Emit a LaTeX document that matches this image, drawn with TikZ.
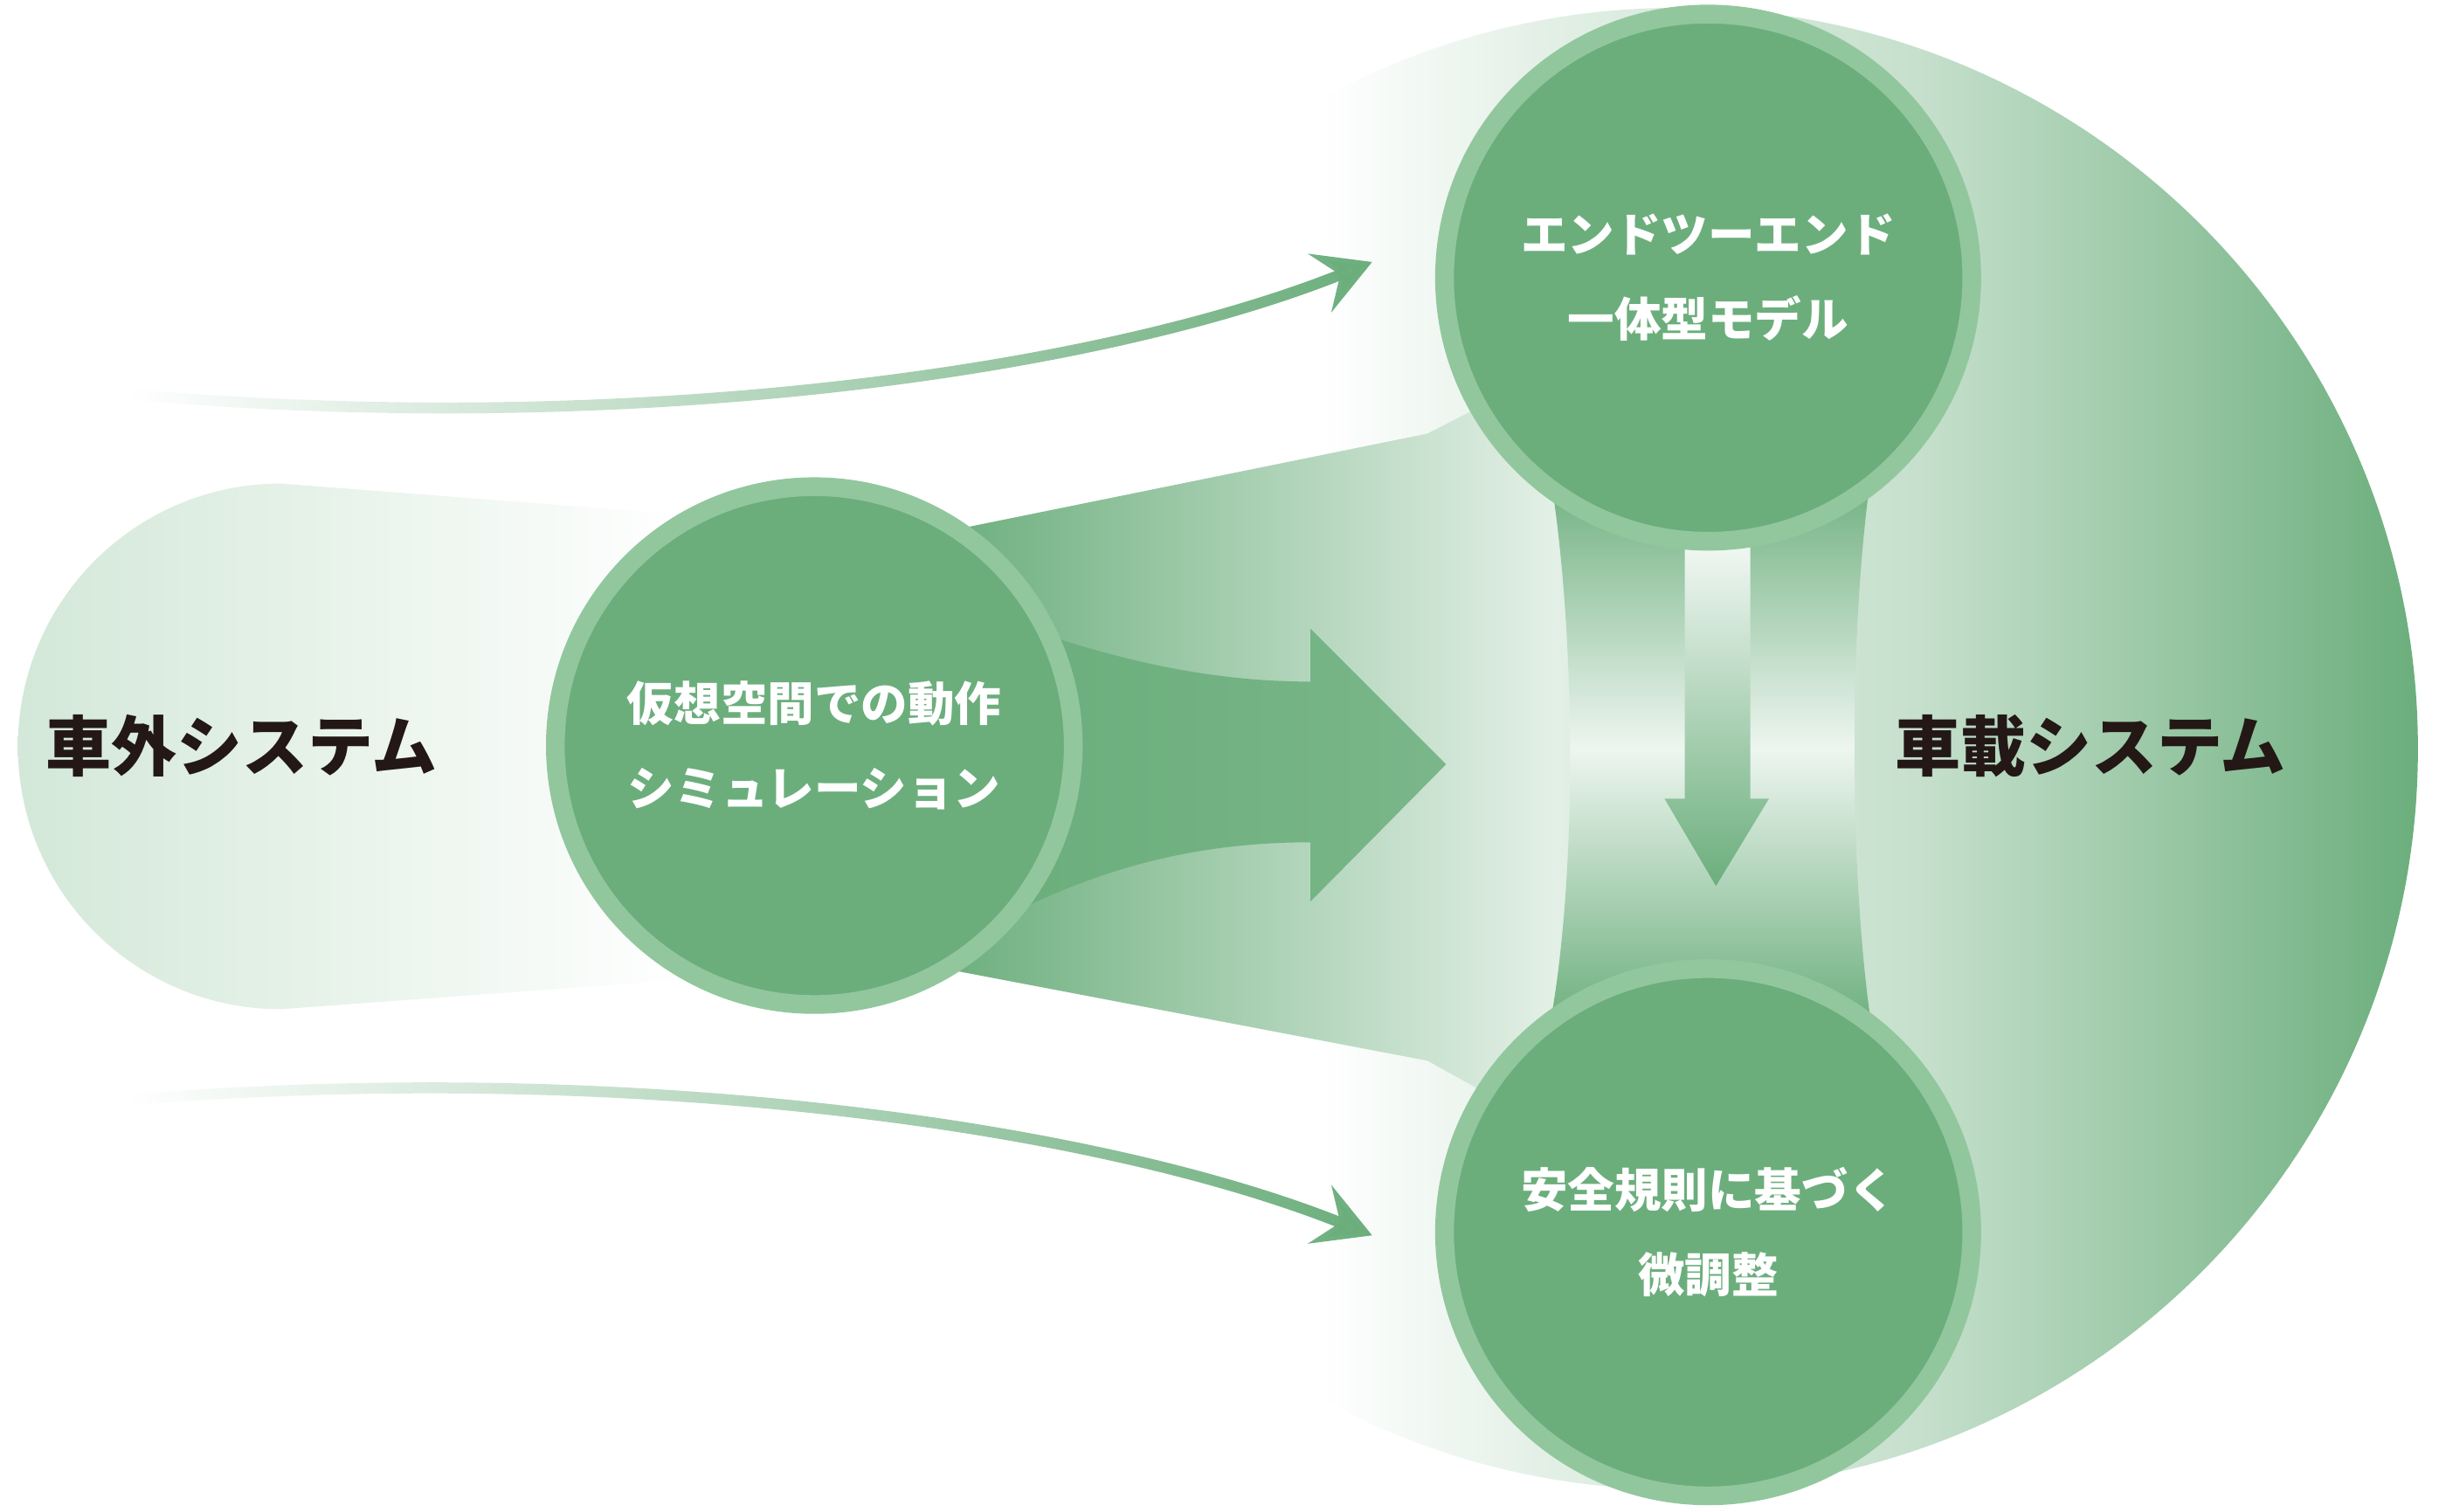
\documentclass[tikz,border=0pt]{standalone}
\usepackage{fontspec}
\setmainfont{Noto Sans CJK JP}
\usetikzlibrary{arrows.meta,fadings}
\definecolor{gr}{HTML}{6BAE7C}
\definecolor{ring}{HTML}{92C79E}
\definecolor{lg}{HTML}{D3E8D8}
\definecolor{ink}{HTML}{231815}
\pgfdeclarehorizontalshading{bigshade}{100bp}{color(0bp)=(white); color(25bp)=(white); color(38bp)=(white); color(46bp)=(gr!20); color(58bp)=(gr!38); color(75bp)=(gr); color(100bp)=(gr)}
\tikzfading[name=fadeleft, left color=transparent!100, right color=transparent!0]
\tikzset{
 ctext/.style={text=white,font=\fontsize{15}{27}\selectfont\bfseries,align=center},
 btext/.style={text=ink,font=\fontsize{21}{26}\selectfont\bfseries},
 circ/.style={circle,fill=gr,draw=ring,line width=6pt},
 thin arrow/.style={draw=gr,line width=3.5pt,-{Stealth[length=18pt,width=20pt,inset=7pt]}}
}
\begin{document}
\begin{tikzpicture}[x=0.5pt,y=-0.5pt]
\useasboundingbox (0,0) rectangle (1568,969);
% big right circle
\shade[shading=bigshade] (1075,480) circle (475);
% left pill
\shade[left color=lg,right color=white] (180,310) -- (440,330) -- (440,628) -- (180,647) arc (90:270:168.5) -- cycle;
% funnel
\shade[left color=gr,right color=gr!18] (600,342) -- (915,278) -- (960,255) -- (1000,255) -- (1000,705) -- (960,705) -- (915,680) -- (600,620) -- cycle;
% big arrow
\shade[left color=gr,right color=gr!90] (650,400) .. controls (720,425) and (780,437) .. (840,437) -- (840,403) -- (927,490) -- (840,578) -- (840,540) .. controls (770,540) and (710,555) .. (650,585) -- cycle;
% hourglass
\shade[top color=gr,bottom color=gr,middle color=gr!12] (993,300) .. controls (1010,400) and (1012,560) .. (993,660) -- (1200,660) .. controls (1185,560) and (1185,400) .. (1200,300) -- cycle;
% down arrow
\shade[top color=gr!10,bottom color=gr] (1080,350) -- (1122,350) -- (1122,512) -- (1134,512) -- (1100,568) -- (1067,512) -- (1080,512) -- cycle;
% circles
\node[circ,minimum size=166pt] (mid) at (522,478) {};
\node[circ,minimum size=169pt] (top) at (1095,178) {};
\node[circ,minimum size=169pt] (bot) at (1095,790) {};
\node[ctext] (midt) at (mid) {仮想空間での動作\\シミュレーション};
\node[ctext] (topt) at (top) {エンドツーエンド\\一体型モデル};
\node[ctext] (bott) at (bot) {安全規則に基づく\\微調整};
% labels
\node[btext] (ext) at (155,478) {車外システム};
\node[btext] (veh) at (1340,478) {車載システム};
% thin arrows
\coordinate (a1) at (85,253); \coordinate (a2) at (880,168);
\coordinate (b1) at (85,705); \coordinate (b2) at (880,792);
\draw[thin arrow,path fading=fadeleft] (a1) .. controls (400,280) and (700,240) .. (a2);
\draw[thin arrow,path fading=fadeleft] (b1) .. controls (400,680) and (700,720) .. (b2);
\end{tikzpicture}
\end{document}
